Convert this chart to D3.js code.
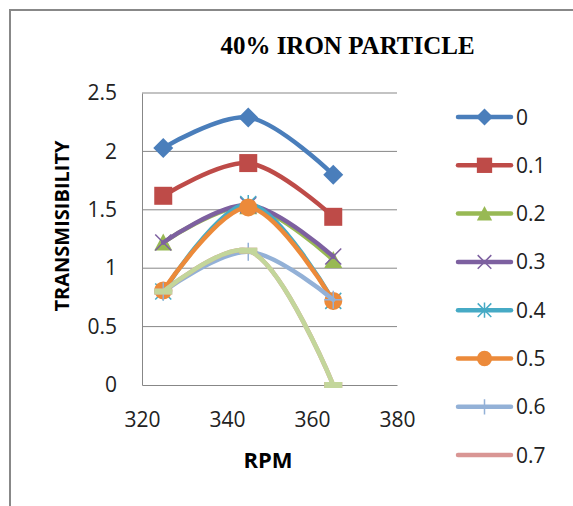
<!DOCTYPE html>
<html><head><meta charset="utf-8">
<script src="https://cdn.jsdelivr.net/npm/d3@7"></script>
<style>body{margin:0;background:#fff}svg{display:block}</style>
</head><body><svg id="c" width="573" height="506"></svg>
<script>
const rpm = [325, 345, 365];
const seriesNames = ["0", "0.1", "0.2", "0.3", "0.4", "0.5", "0.6", "0.7", "0.8"];
const s0  = [2.03, 2.29, 1.80];
const s01 = [1.62, 1.90, 1.44];
const s02 = [1.22, 1.53, 1.07];
const s03 = [1.22, 1.54, 1.10];
const s04 = [0.80, 1.55, 0.72];
const s05 = [0.81, 1.52, 0.72];
const s06 = [0.80, 1.14, 0.73];
const s07 = [0.80, 1.15, 0.00];
const s08 = [0.80, 1.15, 0.00];
const xTicks = [320, 340, 360, 380];
const yTicks = [0, 0.5, 1, 1.5, 2, 2.5];
const values = [s0, s01, s02, s03, s04, s05, s06, s07, s08];
const colors = ["#4A7EBB", "#BE4B48", "#98B954", "#7D60A0", "#46AAC5", "#EC8A3A", "#93B1D7", "#D99694", "#C3D69B"];
const markers = ["diamond", "square", "triangle", "x", "star", "circle", "plus", "dash", "dash"];

const svg = d3.select("#c");
svg.append("path").attr("d", "M10,506 V10 H573").attr("fill", "none").attr("stroke", "#888").attr("stroke-width", 2);

const x = d3.scaleLinear().domain([320, 380]).range([142, 397]);
const y = d3.scaleLinear().domain([0, 2.5]).range([385, 93]);
const fontT = "'Open Sans', Lato, sans-serif";

svg.append("g").selectAll("line").data(yTicks.filter(d => d > 0)).join("line")
  .attr("x1", x(320)).attr("x2", x(380)).attr("y1", d => y(d)).attr("y2", d => y(d))
  .attr("stroke", "#878787").attr("stroke-width", 1);

const yAxis = svg.append("g").attr("transform", `translate(${x(320)},0)`)
  .call(d3.axisLeft(y).tickValues(yTicks).tickFormat(d3.format("")).tickSize(0).tickPadding(25));
const xAxis = svg.append("g").attr("transform", `translate(0,${y(0)})`)
  .call(d3.axisBottom(x).tickValues(xTicks).tickSize(0).tickPadding(27));
[yAxis, xAxis].forEach(a => {
  a.select(".domain").attr("stroke", "#878787").attr("stroke-width", 1);
  a.selectAll("text").attr("font-family", fontT).attr("font-size", 21).attr("fill", "#222");
});

svg.append("text").attr("x", 347.5).attr("y", 54).attr("text-anchor", "middle")
  .attr("font-family", "'Liberation Serif', 'Times New Roman', serif").attr("font-weight", "bold").attr("font-size", 25)
  .text("40% IRON PARTICLE");
svg.append("text").attr("transform", "translate(69,226) rotate(-90)").attr("text-anchor", "middle")
  .attr("font-family", fontT).attr("font-weight", "bold").attr("font-size", 20).text("TRANSMISIBILITY");
svg.append("text").attr("x", 268).attr("y", 468).attr("text-anchor", "middle")
  .attr("font-family", fontT).attr("font-weight", "bold").attr("font-size", 22).text("RPM");

function drawMarker(g, type, cx, cy, color, s, legend) {
  s = s || 1;
  if (type === "diamond") g.append("path").attr("d", `M${cx},${cy-10*s}L${cx+10*s},${cy}L${cx},${cy+10*s}L${cx-10*s},${cy}Z`).attr("fill", color);
  else if (type === "square") g.append("rect").attr("x", cx-9*s).attr("y", cy-9*s).attr("width", 18*s).attr("height", 18*s).attr("fill", color);
  else if (type === "triangle") g.append("path").attr("d", `M${cx},${cy-9*s}L${cx+9*s},${cy+8*s}L${cx-9*s},${cy+8*s}Z`).attr("fill", color);
  else if (type === "x") g.append("path").attr("d", `M${cx-8*s},${cy-8*s}L${cx+8*s},${cy+8*s}M${cx+8*s},${cy-8*s}L${cx-8*s},${cy+8*s}`).attr("stroke", color).attr("stroke-width", 1.5);
  else if (type === "star") g.append("path").attr("d", `M${cx-8*s},${cy-8*s}L${cx+8*s},${cy+8*s}M${cx+8*s},${cy-8*s}L${cx-8*s},${cy+8*s}M${cx},${cy-9*s}L${cx},${cy+9*s}`).attr("stroke", color).attr("stroke-width", 1.5);
  else if (type === "circle") g.append("circle").attr("cx", cx).attr("cy", cy).attr("r", 9*s).attr("fill", color);
  else if (type === "plus") g.append("path").attr("d", `M${cx-9*s},${cy}L${cx+9*s},${cy}M${cx},${cy-9*s}L${cx},${cy+9*s}`).attr("stroke", color).attr("stroke-width", 1.5);
  else if (type === "dash" && !legend) g.append("rect").attr("x", cx-9*s).attr("y", cy-3*s).attr("width", 18*s).attr("height", 6*s).attr("fill", color);
}

const line = d3.line().x((d, i) => x(rpm[i])).y(d => y(d)).curve(d3.curveCatmullRom.alpha(0.5));
values.forEach((vals, k) => {
  const g = svg.append("g");
  g.append("path").attr("d", line(vals)).attr("fill", "none").attr("stroke", colors[k]).attr("stroke-width", 4.5).attr("stroke-linecap", "round");
  vals.forEach((v, i) => drawMarker(g, markers[k], x(rpm[i]), y(v), colors[k]));
});

const lg = svg.append("g");
seriesNames.slice(0, 8).forEach((n, k) => {
  const ly = 117 + k * 48.3;
  lg.append("line").attr("x1", 458).attr("x2", 511).attr("y1", ly).attr("y2", ly).attr("stroke", colors[k]).attr("stroke-width", 4.5).attr("stroke-linecap", "round");
  drawMarker(lg, markers[k], 484.5, ly, colors[k], 0.85, true);
  lg.append("text").attr("x", 516).attr("y", ly).attr("dy", "0.36em").attr("font-family", fontT).attr("font-size", 21).attr("fill", "#222").text(n);
});
</script></body></html>
